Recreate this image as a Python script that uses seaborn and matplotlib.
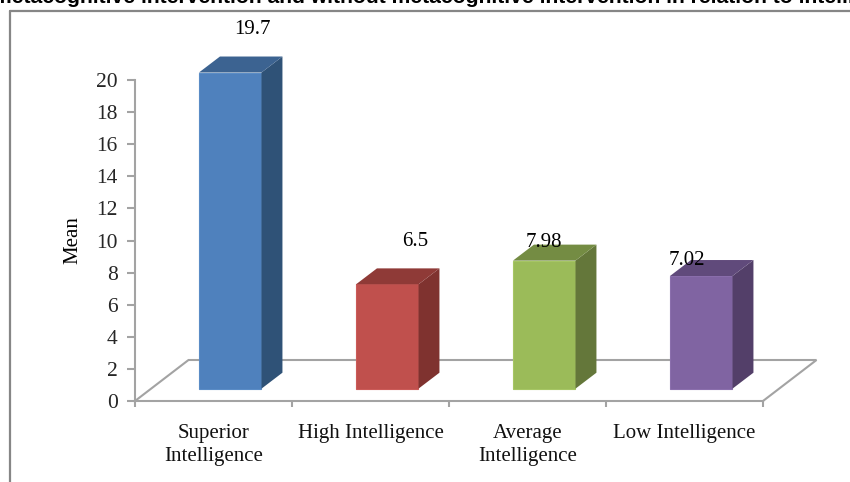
#%%
import matplotlib.pyplot as plt
import pandas as pd
import seaborn as sns
from matplotlib.lines import Line2D
from matplotlib.patches import Polygon

#%%
categories = ['Superior\nIntelligence', 'High Intelligence', 'Average\nIntelligence', 'Low Intelligence']
means = [19.7, 6.5, 7.98, 7.02]
mean_labels = ['19.7', '6.5', '7.98', '7.02']
y_ticks = [0, 2, 4, 6, 8, 10, 12, 14, 16, 18, 20]

front_colors = ['#4F81BD', '#C0504D', '#9BBB59', '#8064A2']
top_colors = ['#3C6391', '#8F3A37', '#748C43', '#604A7B']
side_colors = ['#2F5277', '#7F322F', '#64773A', '#533F69']
edge_colors = ['#5A8CC6', '#CB5B58', '#A6C664', '#8B6FAD']
label_offsets = [(22, 43.5), (28, 42.5), (0, 18.5), (1, 18)]  # px from top of the bar, hand placed in the original
label_offsets[3] = (-14, 16)

#%%
W, H = 850, 482
GREY = '#A3A3A3'
sns.set_theme(style='white')
plt.rcParams['font.family'] = ['Liberation Serif', 'DejaVu Serif']

fig = plt.figure(figsize=(W / 100, H / 100), dpi=100)
ax = fig.add_axes([135 / W, 1 - 401 / H, 628 / W, 321 / H])

df = pd.DataFrame({'group': categories, 'mean': means})
sns.barplot(data=df, x='group', y='mean', hue='group', palette=front_colors,
            saturation=1, width=0.398, legend=False, ax=ax, zorder=3)
ax.set_xlim(-0.5, 3.5)
ax.set_ylim(0, 20)

# pixel sizes in data units, the fake 3d is all offsets
px_x = 4 / 628
px_y = 20 / 321
shift_x, shift_y = 16.7 * px_x, 12.3 * px_y
depth_x, depth_y = 21 * px_x, 16 * px_y
floor_x, floor_y = 53.5 * px_x, 41 * px_y

#%%
# floor behind the bars
ax.plot([-0.5, -0.5 + floor_x, 3.5 + floor_x, 3.5], [0, floor_y, floor_y, 0],
        color=GREY, lw=1.5, clip_on=False, zorder=1, solid_joinstyle='miter')

for i, bar in enumerate(ax.patches):
    bar.set_x(bar.get_x() + shift_x)
    bar.set_y(shift_y)
    bar.set_edgecolor(edge_colors[i])
    bar.set_linewidth(0.8)
    bar.set_clip_on(False)
    x0, x1 = bar.get_x(), bar.get_x() + bar.get_width()
    y0, y1 = shift_y, shift_y + bar.get_height()
    side = [(x1, y0), (x1 + depth_x, y0 + depth_y), (x1 + depth_x, y1 + depth_y), (x1, y1)]
    top = [(x0, y1), (x0 + depth_x, y1 + depth_y), (x1 + depth_x, y1 + depth_y), (x1, y1)]
    ax.add_patch(Polygon(side, closed=True, fc=side_colors[i], ec='none', clip_on=False, zorder=3))
    ax.add_patch(Polygon(top, closed=True, fc=top_colors[i], ec='none', clip_on=False, zorder=3))
    dx, dy = label_offsets[i]
    ax.annotate(mean_labels[i], ((x0 + x1) / 2, y1), xytext=(dx * 0.72, dy * 0.72),
                textcoords='offset points', ha='center', va='center',
                fontsize=15, color='black', annotation_clip=False, zorder=5)

#%%
ax.set_xticks(range(len(categories)))
ax.set_xticklabels(categories, fontsize=15, linespacing=1.32, color='#111111')
ax.set_xticks([-0.5, 0.5, 1.5, 2.5, 3.5], minor=True)
ax.tick_params(axis='x', which='major', length=0, pad=16.5)
ax.tick_params(axis='x', which='minor', length=4, width=1.5, color=GREY, bottom=True)
ax.set_yticks(y_ticks)
ax.tick_params(axis='y', length=5.5, width=1.5, color=GREY, pad=7, labelsize=15.5, left=True)
ax.set_xlabel('')
ax.set_ylabel('Mean', fontsize=15, color='black', labelpad=10)

sns.despine(ax=ax, top=True, right=True)
for s in ['left', 'bottom']:
    ax.spines[s].set_color(GREY)
    ax.spines[s].set_linewidth(1.5)

#%%
# frame of the pasted chart, runs off the page right and bottom
border = '#868686'
fig.add_artist(Line2D([10 / W, 10 / W], [0, 1 - 11 / H], color=border, lw=1.6))
fig.add_artist(Line2D([10 / W, 1], [1 - 11 / H, 1 - 11 / H], color=border, lw=1.6))

# caption of the page, cut off by the crop
fig.text(-7 / W, 1 - 3 / H,
         'metacognitive intervention and without metacognitive intervention in relation to intelligence',
         family=['Liberation Sans', 'DejaVu Sans'], fontweight='bold', fontsize=15.2,
         ha='left', va='baseline', color='black')

fig.savefig('out.png', dpi=100)
